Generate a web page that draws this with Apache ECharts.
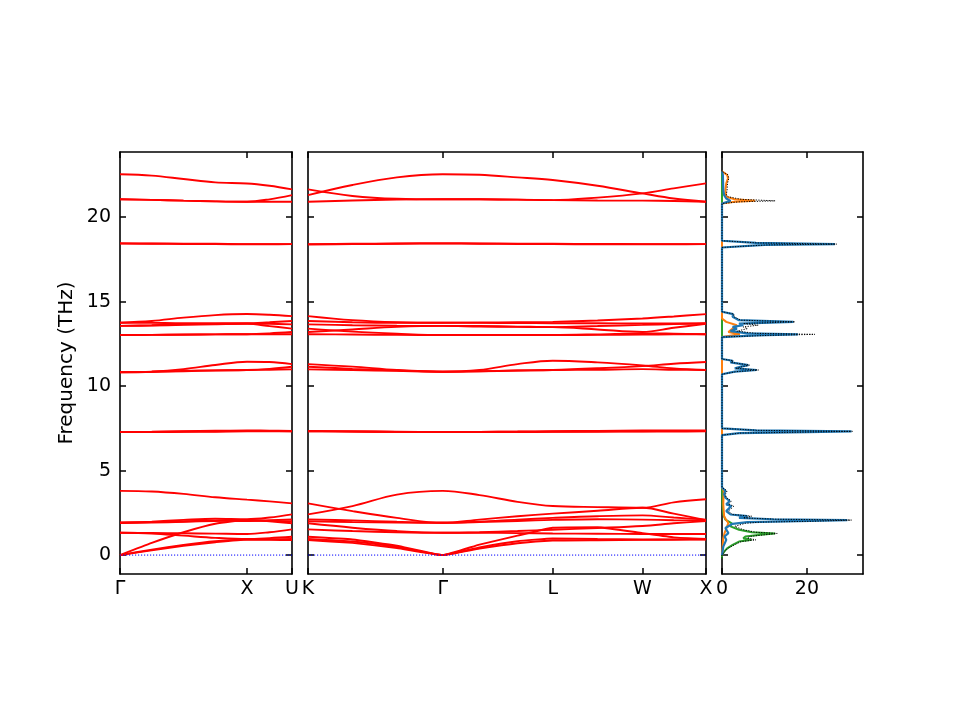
<!DOCTYPE html>
<html>
<head>
<meta charset="utf-8">
<script src="https://cdn.jsdelivr.net/npm/echarts@6/dist/echarts.min.js"></script>
<style>
  html, body { margin: 0; padding: 0; background: #fff; }
  #main { width: 960px; height: 720px; }
</style>
</head>
<body>
<div id="main"></div>
<script>
// path positions (2pi/a units) where the band values were read
var leftPos = [0, 0.25, 0.5, 0.75, 1.0, 1.177, 1.354];
var midPos = [0, 0.35, 0.70, 1.061, 1.35, 1.65, 1.927, 2.28, 2.634, 2.88, 3.134];

var leftTicks = [0, 1.0, 1.354];
var leftTickNames = ['Γ', 'X', 'U'];
var midTicks = [0, 1.061, 1.927, 2.634, 3.134];
var midTickNames = ['K', 'Γ', 'L', 'W', 'X'];
var freqTicks = [0, 5, 10, 15, 20];
var dosTicks = [0, 20];

// Γ - X - U   (THz)
var leftAcoustic = [
  [0, 0.28, 0.55, 0.76, 0.92, 0.90, 0.89],
  [0, 0.32, 0.60, 0.82, 0.93, 0.94, 0.95],
  [0, 0.72, 1.35, 1.85, 2.08, 2.00, 1.88]
];
var leftLow = [
  [1.32, 1.28, 1.15, 1.02, 0.95, 1.00, 1.08],
  [1.32, 1.31, 1.29, 1.27, 1.25, 1.35, 1.52],
  [1.89, 1.92, 1.97, 2.02, 2.05, 2.02, 2.00],
  [1.91, 1.98, 2.08, 2.15, 2.12, 2.22, 2.41],
  [1.93, 1.95, 1.99, 2.04, 2.02, 2.06, 2.11],
  [3.80, 3.76, 3.62, 3.42, 3.28, 3.18, 3.06]
];
var leftMid = [
  [7.28, 7.28, 7.29, 7.30, 7.32, 7.33, 7.33],
  [7.28, 7.29, 7.31, 7.33, 7.35, 7.34, 7.33],
  [7.28, 7.30, 7.33, 7.36, 7.38, 7.36, 7.35],
  [10.81, 10.85, 11.00, 11.25, 11.44, 11.42, 11.30],
  [10.82, 10.85, 10.90, 10.93, 10.95, 11.02, 11.14],
  [10.83, 10.85, 10.88, 10.92, 10.95, 10.97, 10.99]
];
var leftHigh = [
  [13.75, 13.85, 14.05, 14.20, 14.26, 14.22, 14.14],
  [13.75, 13.74, 13.72, 13.72, 13.72, 13.78, 13.85],
  [13.56, 13.60, 13.65, 13.68, 13.70, 13.68, 13.65],
  [13.56, 13.58, 13.62, 13.66, 13.68, 13.55, 13.40],
  [13.02, 13.03, 13.05, 13.06, 13.07, 13.12, 13.20],
  [13.02, 13.03, 13.04, 13.06, 13.07, 13.07, 13.07],
  [18.45, 18.44, 18.43, 18.42, 18.40, 18.40, 18.40],
  [18.43, 18.42, 18.41, 18.40, 18.39, 18.39, 18.40],
  [22.53, 22.45, 22.25, 22.05, 21.99, 21.85, 21.64],
  [21.05, 21.02, 20.97, 20.93, 20.91, 21.05, 21.30],
  [21.05, 21.02, 20.97, 20.93, 20.91, 20.91, 20.91]
];

// K - Γ - L - W - X   (THz)
var midAcoustic = [
  [0.89, 0.72, 0.42, 0, 0.38, 0.70, 0.86, 0.88, 0.90, 0.91, 0.92],
  [0.95, 0.80, 0.48, 0, 0.45, 0.82, 0.98, 0.95, 0.92, 0.93, 0.93],
  [1.08, 0.92, 0.55, 0, 0.62, 1.15, 1.62, 1.65, 1.30, 1.05, 0.95]
];
var midLow = [
  [1.52, 1.42, 1.35, 1.32, 1.32, 1.30, 1.28, 1.26, 1.25, 1.25, 1.25],
  [1.88, 1.62, 1.42, 1.32, 1.35, 1.42, 1.50, 1.60, 1.72, 1.88, 2.02],
  [2.00, 1.95, 1.92, 1.91, 1.95, 2.02, 2.08, 2.12, 2.10, 2.06, 2.05],
  [2.11, 2.05, 1.97, 1.91, 1.98, 2.10, 2.20, 2.30, 2.35, 2.22, 2.10],
  [3.06, 2.60, 2.20, 1.91, 2.10, 2.30, 2.45, 2.62, 2.80, 2.45, 2.07],
  [2.41, 2.90, 3.58, 3.80, 3.55, 3.15, 2.90, 2.84, 2.80, 3.12, 3.30]
];
var midMid = [
  [7.33, 7.31, 7.29, 7.28, 7.28, 7.28, 7.29, 7.30, 7.31, 7.31, 7.32],
  [7.33, 7.31, 7.29, 7.28, 7.29, 7.30, 7.31, 7.32, 7.33, 7.34, 7.35],
  [7.35, 7.32, 7.30, 7.28, 7.29, 7.31, 7.33, 7.35, 7.37, 7.38, 7.38],
  [11.30, 11.15, 10.95, 10.85, 10.95, 11.30, 11.50, 11.40, 11.22, 11.05, 10.95],
  [11.14, 11.02, 10.92, 10.85, 10.88, 10.92, 10.95, 11.05, 11.18, 11.32, 11.42],
  [10.99, 10.95, 10.90, 10.85, 10.87, 10.92, 10.95, 10.97, 11.00, 10.97, 10.95]
];
var midHigh = [
  [14.14, 13.90, 13.78, 13.75, 13.76, 13.78, 13.80, 13.88, 14.00, 14.12, 14.26],
  [13.85, 13.78, 13.75, 13.75, 13.74, 13.73, 13.72, 13.72, 13.70, 13.70, 13.72],
  [13.65, 13.60, 13.57, 13.56, 13.55, 13.52, 13.49, 13.55, 13.62, 13.67, 13.70],
  [13.20, 13.35, 13.50, 13.56, 13.52, 13.50, 13.49, 13.35, 13.20, 13.45, 13.68],
  [13.40, 13.22, 13.10, 13.02, 13.02, 13.02, 13.02, 13.03, 13.05, 13.06, 13.07],
  [13.07, 13.05, 13.03, 13.02, 13.02, 13.02, 13.02, 13.06, 13.12, 13.10, 13.07],
  [18.40, 18.42, 18.44, 18.45, 18.44, 18.43, 18.42, 18.41, 18.40, 18.40, 18.40],
  [18.38, 18.40, 18.42, 18.43, 18.42, 18.41, 18.40, 18.39, 18.39, 18.39, 18.40],
  [21.30, 21.90, 22.35, 22.53, 22.50, 22.35, 22.19, 21.85, 21.40, 21.10, 20.91],
  [21.64, 21.25, 21.08, 21.05, 21.05, 21.03, 21.00, 21.15, 21.40, 21.70, 21.99],
  [20.91, 20.98, 21.03, 21.05, 21.05, 21.03, 21.00, 20.98, 20.97, 20.95, 20.91]
];

// DOS  [frequency, states]
var dosBlue = [
  [0, 0], [0.5, 0.3], [0.9, 1.0], [1.1, 0.6], [1.3, 1.5], [1.6, 0.8], [1.85, 2.5], [1.95, 6], [2.0, 18],
  [2.07, 29.5], [2.12, 12], [2.2, 4], [2.3, 6], [2.4, 2], [2.6, 1], [2.9, 2.2], [3.0, 1], [3.2, 1.8],
  [3.4, 0.8], [3.6, 0.5], [3.8, 0.8], [4.0, 0],
  [7.1, 0], [7.22, 4], [7.28, 20], [7.32, 30.5], [7.38, 8], [7.5, 0],
  [10.7, 0], [10.85, 3], [10.95, 8.2], [11.05, 3], [11.15, 4.5], [11.24, 6.2], [11.4, 2], [11.5, 2.5], [11.6, 0],
  [12.9, 0], [13.0, 8], [13.06, 17.9], [13.12, 6], [13.25, 2], [13.4, 3.5], [13.5, 2.5], [13.6, 5], [13.7, 4],
  [13.8, 16.8], [13.9, 4], [14.1, 2.5], [14.26, 2.6], [14.4, 0],
  [18.2, 0], [18.35, 10], [18.4, 26.6], [18.47, 8], [18.6, 0],
  [20.8, 0], [20.96, 2], [21.1, 1], [21.3, 0.5], [21.6, 0.3], [22.5, 0.2], [22.7, 0]
];
var dosOrange = [
  [0, 0], [1.0, 0.3], [1.3, 0.6], [1.9, 1.5], [2.07, 1.0], [2.3, 0.5], [3.0, 0.3], [3.8, 0.4], [4.0, 0],
  [12.9, 0], [13.06, 4.2], [13.2, 1.5], [13.4, 2.5], [13.6, 3.5], [13.8, 1], [14.0, 0],
  [20.8, 0], [20.9, 3], [20.96, 7.8], [21.05, 3], [21.2, 1], [21.6, 0.8], [22.0, 1], [22.3, 1.4], [22.5, 1.2], [22.7, 0]
];
var dosGreen = [
  [-0.2, 0], [0, 0], [0.2, 0.5], [0.4, 1.2], [0.6, 2.5], [0.8, 4], [0.9, 7], [1.0, 5], [1.1, 5.5], [1.2, 9],
  [1.28, 12.5], [1.35, 7], [1.5, 4], [1.7, 2], [1.88, 2.3], [2.0, 1.5], [2.1, 0.8], [2.4, 0.3], [3.0, 0.1],
  [4.0, 0], [22.7, 0]
];
var dosTotal = [
  [-0.2, 0], [0, 0], [0.2, 0.6], [0.4, 1.4], [0.6, 2.9], [0.8, 4.5], [0.9, 8], [1.0, 6], [1.1, 6.5], [1.2, 10],
  [1.28, 13], [1.35, 8], [1.5, 5], [1.7, 3], [1.88, 5.5], [1.95, 9], [2.0, 21], [2.07, 30.5], [2.12, 13],
  [2.2, 5], [2.3, 7], [2.4, 2.5], [2.6, 1.5], [2.9, 2.8], [3.0, 1.5], [3.2, 2.2], [3.4, 1], [3.6, 0.8],
  [3.8, 1.2], [4.0, 0],
  [7.1, 0], [7.22, 4.5], [7.28, 21], [7.32, 30.7], [7.38, 8.5], [7.5, 0],
  [10.7, 0], [10.85, 3.3], [10.95, 8.6], [11.05, 3.3], [11.15, 4.8], [11.24, 6.5], [11.4, 2.2], [11.5, 2.7], [11.6, 0],
  [12.9, 0], [13.0, 11], [13.06, 21.9], [13.12, 8], [13.25, 3.5], [13.4, 6], [13.5, 5], [13.6, 8.5], [13.7, 5],
  [13.8, 17.2], [13.9, 4.5], [14.1, 2.8], [14.26, 2.8], [14.4, 0],
  [18.2, 0], [18.35, 10.5], [18.4, 27], [18.47, 8.5], [18.6, 0],
  [20.8, 0], [20.9, 4], [20.96, 12.5], [21.05, 4.5], [21.2, 1.5], [21.3, 1], [21.6, 1.2], [22.0, 1.3],
  [22.3, 1.6], [22.5, 1.4], [22.7, 0]
];

var fMin = -1.12, fMax = 23.85;
var font = 'DejaVu Sans';
var fontSize = 19;

function xPair(grid, min, max, ticks, names) {
  var tickStyle = { show: true, inside: true, length: 6, lineStyle: { color: '#000', width: 1.5 } };
  var bottom = {
    type: 'value', gridIndex: grid, position: 'bottom', min: min, max: max,
    axisLine: { show: true, onZero: false, lineStyle: { color: '#000', width: 1.6 } },
    axisTick: Object.assign({ customValues: ticks }, tickStyle),
    axisLabel: {
      customValues: ticks, margin: 6, color: '#000', fontSize: fontSize, fontFamily: font,
      formatter: function (v) {
        if (!names) return String(v);
        var i = ticks.indexOf(v);
        return i >= 0 ? names[i] : '';
      }
    },
    splitLine: { show: false }
  };
  var top = {
    type: 'value', gridIndex: grid, position: 'top', min: min, max: max,
    axisLine: { show: true, onZero: false, lineStyle: { color: '#000', width: 1.6 } },
    axisTick: Object.assign({ customValues: ticks }, tickStyle),
    axisLabel: { show: false },
    splitLine: { show: false }
  };
  return [bottom, top];
}

function yPair(grid, labels) {
  var tickStyle = { show: true, inside: true, length: 6, lineStyle: { color: '#000', width: 1.5 } };
  var left = {
    type: 'value', gridIndex: grid, position: 'left', min: fMin, max: fMax,
    axisLine: { show: true, onZero: false, lineStyle: { color: '#000', width: 1.6 } },
    axisTick: Object.assign({ customValues: freqTicks }, tickStyle),
    axisLabel: labels ? { customValues: freqTicks, margin: 9, color: '#000', fontSize: fontSize, fontFamily: font } : { show: false },
    splitLine: { show: false }
  };
  if (labels) {
    left.name = 'Frequency (THz)';
    left.nameLocation = 'middle';
    left.nameGap = 43;
    left.nameTextStyle = { color: '#000', fontSize: 20, fontFamily: font };
  }
  var right = {
    type: 'value', gridIndex: grid, position: 'right', min: fMin, max: fMax,
    axisLine: { show: true, onZero: false, lineStyle: { color: '#000', width: 1.6 } },
    axisTick: Object.assign({ customValues: freqTicks }, tickStyle),
    axisLabel: { show: false },
    splitLine: { show: false }
  };
  return [left, right];
}

function bandSeries(pos, bands, xi, yi, smooth) {
  return bands.map(function (b) {
    return {
      type: 'line', xAxisIndex: xi, yAxisIndex: yi, silent: true,
      symbol: 'none', smooth: smooth,
      data: b.map(function (v, i) { return [pos[i], v]; }),
      lineStyle: { color: '#ff0000', width: 1.9 }
    };
  });
}

function zeroLine(maxX, xi, yi) {
  return {
    type: 'line', xAxisIndex: xi, yAxisIndex: yi, silent: true, symbol: 'none',
    data: [[0, 0], [maxX, 0]], z: 3,
    lineStyle: { color: '#0000ff', width: 1, type: [1.2, 1.8] }
  };
}

function dosSeries(pts, color, width, dashed, z) {
  return {
    type: 'line', xAxisIndex: 4, yAxisIndex: 4, silent: true, symbol: 'none', z: z,
    data: pts.map(function (p) { return [p[1], p[0]]; }),
    lineStyle: { color: color, width: width, type: dashed ? [1.2, 1.4] : 'solid' }
  };
}

var chart = echarts.init(document.getElementById('main'), null, { renderer: 'canvas' });

var xAxes = [].concat(
  xPair(0, 0, 1.354, leftTicks, leftTickNames),
  xPair(1, 0, 3.134, midTicks, midTickNames),
  xPair(2, 0, 33.2, dosTicks, null)
);
var yAxes = [].concat(yPair(0, true), yPair(1, false), yPair(2, false));

var series = [].concat(
  bandSeries(leftPos, leftAcoustic, 0, 0, 0.15),
  bandSeries(leftPos, leftLow, 0, 0, 0.35),
  bandSeries(leftPos, leftMid, 0, 0, 0.35),
  bandSeries(leftPos, leftHigh, 0, 0, 0.35),
  bandSeries(midPos, midAcoustic, 2, 2, 0.12),
  bandSeries(midPos, midLow, 2, 2, 0.35),
  bandSeries(midPos, midMid, 2, 2, 0.35),
  bandSeries(midPos, midHigh, 2, 2, 0.35),
  [zeroLine(1.354, 0, 0), zeroLine(3.134, 2, 2)],
  [
    dosSeries(dosGreen, '#2ca02c', 2, false, 2),
    dosSeries(dosOrange, '#ff7f0e', 2, false, 3),
    dosSeries(dosBlue, '#1f77b4', 2.2, false, 4),
    dosSeries(dosTotal, '#000000', 1, true, 5)
  ]
);

var option = {
  backgroundColor: '#ffffff',
  animation: false,
  grid: [
    { left: 120, top: 152, width: 172, height: 422 },
    { left: 308, top: 152, width: 398, height: 422 },
    { left: 722, top: 152, width: 141, height: 422 }
  ],
  xAxis: xAxes,
  yAxis: yAxes,
  series: series
};

chart.setOption(option);
window.onresize = chart.resize;
</script>
</body>
</html>
